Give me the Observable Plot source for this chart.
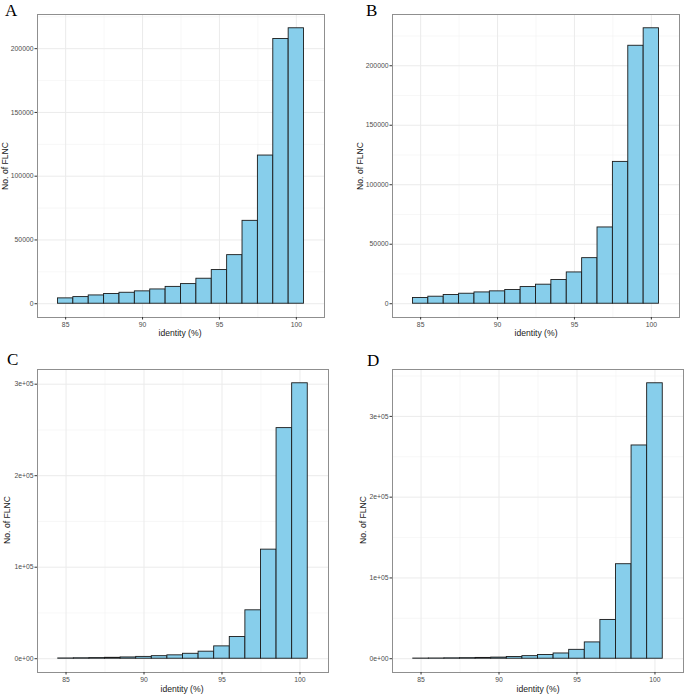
<!DOCTYPE html>
<html>
<head>
<meta charset="utf-8">
<script src="https://cdn.jsdelivr.net/npm/d3@7"></script>
<script src="https://cdn.jsdelivr.net/npm/@observablehq/plot@0.6"></script>
<style>
  html, body { margin: 0; padding: 0; background: #fff; }
  #root { position: relative; width: 685px; height: 694px; overflow: hidden; font-family: "Liberation Sans", Arial, sans-serif; }
  .panel { position: absolute; }
  .letter { position: absolute; font-family: "Liberation Serif", "Times New Roman", serif; font-size: 17px; color: #000; line-height: 1; }
  .xtitle { position: absolute; font-size: 8.6px; color: #1a1a1a; transform: translate(-50%, -50%); white-space: nowrap; }
  .ytitle { position: absolute; font-size: 8.6px; color: #1a1a1a; transform: translate(-50%, -50%) rotate(-90deg); white-space: nowrap; }
</style>
</head>
<body>
<div id="root"></div>
<script>
// identity bins (bin centres, width 1)
const bins = [85, 86, 87, 88, 89, 90, 91, 92, 93, 94, 95, 96, 97, 98, 99, 100];
const countsA = [4200, 5200, 6500, 7600, 8600, 9700, 11200, 13200, 15400, 19600, 26400, 38100, 65000, 116200, 207600, 216000];
const countsB = [4800, 5900, 7300, 8400, 9500, 10400, 11500, 14000, 16000, 19900, 26300, 38300, 64100, 119200, 216800, 231500];
const countsC = [300, 500, 700, 1000, 1400, 2000, 2800, 3700, 5400, 7700, 13500, 23700, 52900, 119200, 252000, 301000];
const countsD = [200, 300, 500, 700, 1000, 1400, 2200, 3200, 4600, 6500, 11000, 20200, 47900, 117000, 264000, 341000];
const panelLetters = ["A", "B", "C", "D"];
const xTicks = [85, 90, 95, 100];
const xMinor = [87.5, 92.5, 97.5];
const yTicksPlain = [0, 50000, 100000, 150000, 200000];
const yMinorPlain = [25000, 75000, 125000, 175000, 225000];
const yTicksSci = [0, 100000, 200000, 300000];
const yMinorSci = [50000, 150000, 250000, 350000];
const xTitle = "identity (%)";
const yTitle = "No. of FLNC";

const sciFmt = d => (d === 0 ? "0e+00" : (d / 1e5) + "e+05");
const plainFmt = d => String(d);

const panels = [
  {counts: countsA, left: 0,   top: 0,   width: 340, height: 340, ml: 37, mr: 16, mt: 14, mb: 23, sci: false,
   letter: [5, 2], xt: [180, 333], yt: [5, 166]},
  {counts: countsB, left: 340, top: 0,   width: 345, height: 340, ml: 52, mr: 6,  mt: 14, mb: 23, sci: false,
   letter: [366, 2], xt: [536, 333], yt: [360, 166]},
  {counts: countsC, left: 0,   top: 340, width: 340, height: 354, ml: 37, mr: 12, mt: 29, mb: 22, sci: true,
   letter: [7, 351], xt: [182, 689], yt: [7, 520]},
  {counts: countsD, left: 340, top: 340, width: 345, height: 354, ml: 52, mr: 2,  mt: 29, mb: 22, sci: true,
   letter: [367, 352], xt: [538, 689], yt: [363, 520]}
];

const root = document.getElementById("root");

panels.forEach((p, i) => {
  const data = bins.map((b, k) => ({x1: b - 0.5, x2: b + 0.5, y: p.counts[k]}));
  const M = d3.max(p.counts);
  const yTicks = p.sci ? yTicksSci : yTicksPlain;
  const yMinor = (p.sci ? yMinorSci : yMinorPlain).filter(v => v < 1.05 * M);
  const chart = Plot.plot({
    width: p.width,
    height: p.height,
    marginLeft: p.ml,
    marginRight: p.mr,
    marginTop: p.mt,
    marginBottom: p.mb,
    style: {fontFamily: "'Liberation Sans', Arial, sans-serif", background: "transparent", overflow: "visible"},
    x: {domain: [83.17, 101.83]},
    y: {domain: [-0.05 * M, 1.05 * M]},
    marks: [
      Plot.ruleX(xMinor, {stroke: "#f2f2f2", strokeWidth: 0.6}),
      Plot.ruleY(yMinor, {stroke: "#f2f2f2", strokeWidth: 0.6}),
      Plot.ruleX(xTicks, {stroke: "#ebebeb", strokeWidth: 1}),
      Plot.ruleY(yTicks, {stroke: "#ebebeb", strokeWidth: 1}),
      Plot.rectY(data, {x1: "x1", x2: "x2", y1: 0, y2: "y", fill: "#87CEEB", stroke: "#1a1a1a", strokeWidth: 0.9}),
      Plot.frame({stroke: "#8f8f8f", strokeWidth: 1}),
      Plot.axisX(xTicks, {tickSize: 2.5, tickPadding: 2, fontSize: 6.8, fill: "#4d4d4d", stroke: "#333", label: null}),
      Plot.axisY(yTicks, {tickSize: 2.5, tickPadding: 1.5, fontSize: 6.8, fill: "#4d4d4d", stroke: "#333",
        tickFormat: p.sci ? sciFmt : plainFmt, label: null})
    ]
  });
  chart.classList.add("panel");
  chart.style.left = p.left + "px";
  chart.style.top = p.top + "px";
  root.appendChild(chart);

  const L = document.createElement("div");
  L.className = "letter";
  L.textContent = panelLetters[i];
  L.style.left = p.letter[0] + "px";
  L.style.top = p.letter[1] + "px";
  root.appendChild(L);

  const xt = document.createElement("div");
  xt.className = "xtitle";
  xt.textContent = xTitle;
  xt.style.left = p.xt[0] + "px";
  xt.style.top = p.xt[1] + "px";
  root.appendChild(xt);

  const yt = document.createElement("div");
  yt.className = "ytitle";
  yt.textContent = yTitle;
  yt.style.left = p.yt[0] + "px";
  yt.style.top = p.yt[1] + "px";
  root.appendChild(yt);
});
</script>
</body>
</html>
